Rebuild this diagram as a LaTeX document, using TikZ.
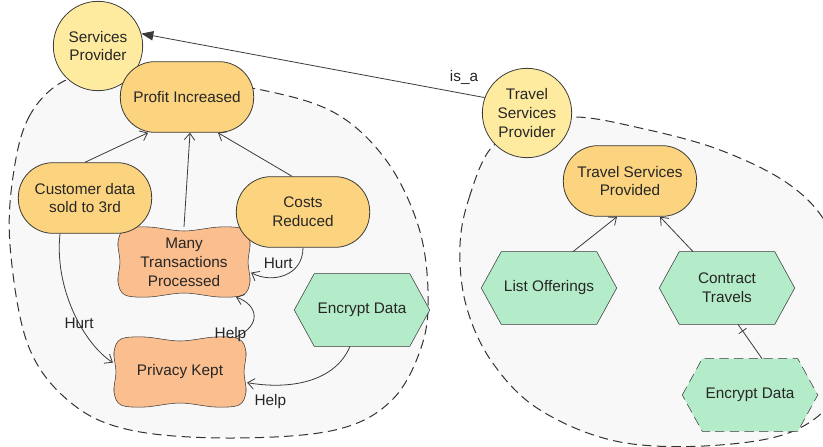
\documentclass[tikz,border=0pt]{standalone}
\usepackage{fontspec}
\setmainfont{Liberation Sans}
\usetikzlibrary{arrows.meta,positioning,calc,backgrounds,decorations.markings}
\definecolor{actorfill}{HTML}{FEEBA0}
\definecolor{goalfill}{HTML}{FCD47F}
\definecolor{softfill}{HTML}{FBBE8E}
\definecolor{taskfill}{HTML}{B4EBC8}
\definecolor{bndfill}{HTML}{F8F8F8}
\definecolor{lnclr}{HTML}{3A3A3A}
\tikzset{
  actor/.style={circle,draw=lnclr,fill=actorfill,minimum size=67pt,inner sep=0pt,align=center},
  goal/.style={rectangle,rounded corners=26pt,draw=lnclr,fill=goalfill,minimum width=100pt,minimum height=53pt,align=center},
  softbox/.style={rectangle,minimum width=100pt,minimum height=52pt,align=center},
  taskbox/.style={rectangle,minimum width=101pt,minimum height=54pt,align=center},
  softline/.style={draw=lnclr,fill=softfill},
  taskline/.style={draw=lnclr,fill=taskfill},
  bnd/.style={draw=black!80,fill=bndfill,line width=0.75pt,dash pattern=on 7pt off 4pt},
  arr/.style={-{Straight Barb[length=5pt,width=8pt]},lnclr},
  isa/.style={-{Triangle[length=9pt,width=7pt]},lnclr},
  tick/.style={lnclr,postaction={decorate},
    decoration={markings,mark=at position -6pt with {\draw (0,-3.5pt)--(0,3.5pt);}}},
  lbl/.style={text=black!85}
}
% wavy outline of a softgoal, drawn round a named box
\newcommand{\softgoal}[1]{%
  \draw[softline] plot[smooth cycle,tension=0.55] coordinates {
    ($(#1)+(-66,-20)$) ($(#1)+(-59,-33)$) ($(#1)+(-35,-35)$) ($(#1)+(0,-31)$)
    ($(#1)+(35,-35)$) ($(#1)+(59,-33)$) ($(#1)+(66,-20)$) ($(#1)+(64,0)$)
    ($(#1)+(66,20)$) ($(#1)+(59,33)$) ($(#1)+(35,35)$) ($(#1)+(0,31)$)
    ($(#1)+(-35,35)$) ($(#1)+(-59,33)$) ($(#1)+(-66,20)$) ($(#1)+(-64,0)$)};}
% hexagon of a task
\newcommand{\taskshape}[2][]{%
  \draw[taskline,#1] (#2.west) -- ($(#2.north west)+(20,0)$) -- ($(#2.north east)+(-20,0)$)
    -- (#2.east) -- ($(#2.south east)+(-20,0)$) -- ($(#2.south west)+(20,0)$) -- cycle;}

\begin{document}
\begin{tikzpicture}[x=0.75pt,y=-0.75pt,line width=0.6pt,font=\fontsize{11.5}{14.2}\selectfont,text=black!85]
  \useasboundingbox (0,0) rectangle (823,446);
  \clip (0,0) rectangle (823,446);

  % left actor
  \node[actor] (sp) at (98,46) {Services\\Provider};
  \node[goal] (profit) at (187,97) {Profit Increased};
  \node[goal] (cust) at (85,198) {Customer data\\sold to 3rd};
  \node[goal] (costs) at (303,212) {Costs\\Reduced};
  \node[softbox] (many) at (184,262) {Many\\Transactions\\Processed};
  \node[softbox] (privacy) at (180,372) {Privacy Kept};
  \node[taskbox] (encl) at (362,310) {Encrypt Data};

  % right actor
  \node[actor] (tsp) at (527,113) {Travel\\Services\\Provider};
  \node[goal] (tspd) at (630,181) {Travel Services\\Provided};
  \node[taskbox] (list) at (549,288) {List Offerings};
  \node[taskbox] (ctr) at (727,288) {Contract\\Travels};
  \node[taskbox] (encr) at (750,395) {Encrypt Data};

  \begin{scope}[on background layer]
    \draw[bnd] plot[smooth cycle,tension=0.6] coordinates {
      (64,81) (30,115) (14,170) (10,245) (28,345) (70,402) (130,430) (230,438)
      (335,430) (392,400) (422,345) (428,290) (418,225) (386,160) (335,113)
      (262,90) (180,80) (110,75)};
    \draw[bnd] plot[smooth cycle,tension=0.6] coordinates {
      (492,147) (470,195) (460,245) (466,305) (492,362) (540,410) (620,442)
      (720,445) (800,428) (845,380) (852,300) (830,230) (790,185) (720,150)
      (640,128) (573,117) (530,130)};
    \softgoal{many}
    \softgoal{privacy}
    \taskshape{encl}
    \taskshape{list}
    \taskshape{ctr}
    \taskshape[dash pattern=on 7pt off 4pt]{encr}
  \end{scope}

  \draw[arr] (cust.north) -- ($(profit.south)+(-39,0)$);
  \draw[arr] (many.north) -- ($(profit.south)+(3,0)$);
  \draw[arr] ($(costs.north)+(-11,0)$) -- ($(profit.south)+(31,0)$);
  \draw[arr] (costs.south) .. controls (303,276) and (272,284) .. (many.-9)
    node[lbl,pos=0.22,left=1pt] {Hurt};
  \draw[arr] (privacy.32) .. controls (262,325) and (258,305) .. (many.-34)
    node[lbl,pos=0.06,left=-8pt] {Help};
  \draw[arr] ($(encl.south)+(-12,0)$) .. controls (335,382) and (290,390) .. (privacy.-9)
    node[lbl,pos=0.82,below=3pt] {Help};
  \draw[arr] ($(cust.south)+(-25,0)$) .. controls (54,290) and (85,345) .. (privacy.172)
    node[lbl,pos=0.58] {Hurt};

  \draw[isa] (tsp.160) -- (sp.16) node[lbl,pos=0.06,above=3pt] {is\_a};
  \draw[arr] ($(list.north)+(24,0)$) -- ($(tspd.south)+(-13,0)$);
  \draw[arr] ($(ctr.north)+(-34,0)$) -- ($(tspd.south)+(30,0)$);
  \draw[tick] ($(encr.north)+(12,0)$) -- ($(ctr.south)+(11,0)$);
\end{tikzpicture}
\end{document}
